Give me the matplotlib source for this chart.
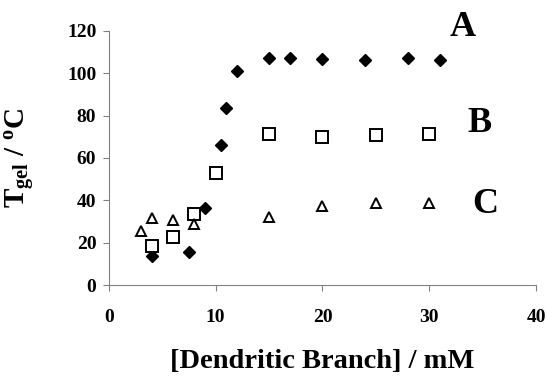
import matplotlib
matplotlib.use("Agg")
import matplotlib.pyplot as plt

plt.rcParams["font.family"] = ["Liberation Serif", "DejaVu Serif"]
plt.rcParams["font.weight"] = "bold"
plt.rcParams["mathtext.fontset"] = "custom"
plt.rcParams["mathtext.rm"] = "Liberation Serif:bold"
plt.rcParams["mathtext.it"] = "Liberation Serif:bold"
plt.rcParams["mathtext.bf"] = "Liberation Serif:bold"

# series A (filled diamonds)
a_x = [4, 7.5, 9, 10.5, 11, 12, 15, 17, 20, 24, 28, 31]
a_y = [13.7, 15.4, 36.2, 66, 83.5, 101.2, 107.2, 107, 106.5, 106.2, 107.2, 106.2]
# series B (open squares)
b_x = [4, 6, 8, 10, 15, 20, 25, 30]
b_y = [18.4, 22.8, 33.4, 52.8, 71.3, 70, 70.8, 71.5]
# series C (open triangles)
c_x = [3, 4, 6, 8, 15, 20, 25, 30]
c_y = [25.5, 31.5, 30.7, 29, 32.3, 37.5, 38.8, 38.5]

labels = ["A", "B", "C"]
label_pos = [(33.1, 123.3), (34.7, 78.2), (35.2, 39.7)]

fig = plt.figure(figsize=(5.47, 3.76), dpi=100)
ax = fig.add_axes([0.199, 0.242, 0.781, 0.676])

ax.plot(a_x, a_y, "D", color="black", markersize=6.5, clip_on=False)
ax.plot(b_x, b_y, "s", mfc="white", mec="black", mew=1.4, markersize=8, clip_on=False)
ax.plot(c_x, c_y, "^", mfc="white", mec="black", mew=1.4, markersize=7.5, clip_on=False)

for txt, (x, y) in zip(labels, label_pos):
    ax.text(x, y, txt, fontsize=26, fontweight="bold", ha="center",
            va="center_baseline", clip_on=False)

ax.set_xlim(0, 40)
ax.set_ylim(0, 120)
ax.set_xticks(range(0, 41, 10))
ax.set_yticks(range(0, 121, 20))
for side in ["top", "right"]:
    ax.spines[side].set_visible(False)
for side in ["left", "bottom"]:
    ax.spines[side].set_color("#808080")
ax.tick_params(colors="#808080", labelcolor="black", length=4, labelsize=14)
ax.tick_params(axis="x", pad=13)
ax.tick_params(axis="y", pad=5)
for lab in ax.get_xticklabels() + ax.get_yticklabels():
    lab.set_fontweight("bold")

ax.set_xlabel("[Dendritic Branch] / mM", fontsize=20.5, fontweight="bold", va="bottom")
ax.xaxis.set_label_coords(0.5, -0.35)
ax.set_ylabel(r"T$_{\rm gel}$ / $^{\rm o}$C", fontsize=21, fontweight="bold")
ax.yaxis.set_label_coords(-0.169, 0.5)

fig.savefig("out.png", dpi=100)
